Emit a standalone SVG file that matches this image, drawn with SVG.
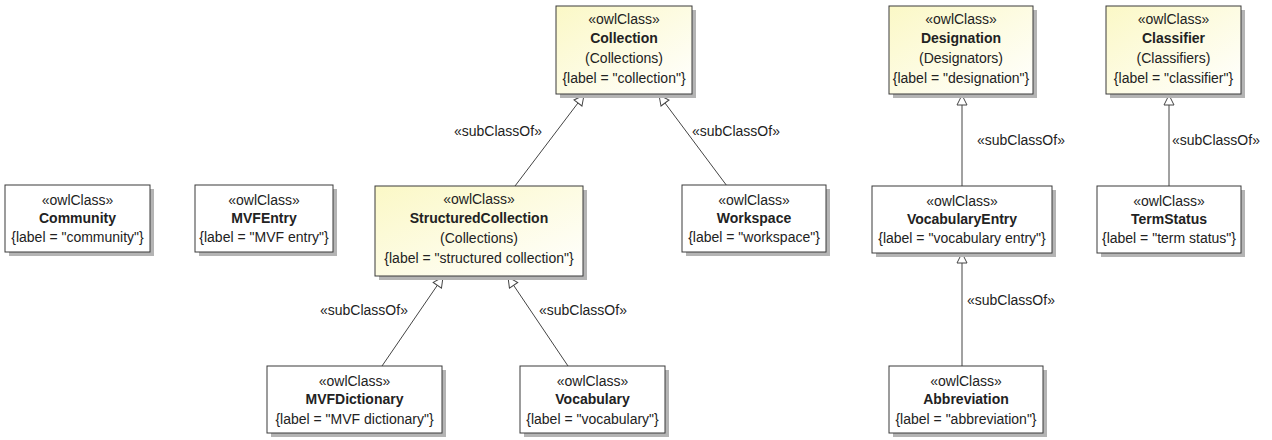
<svg xmlns="http://www.w3.org/2000/svg" width="1272" height="440" viewBox="0 0 1272 440">
<style>
text{font-family:"Liberation Sans",Arial,sans-serif;font-size:14px;fill:#222;text-anchor:middle}
.b{font-weight:bold}
.box{stroke:#3a3a3a;stroke-width:1}
.w{fill:#fff}
.y{fill:url(#yg)}
.sh{fill:#b4b4b4}
.c{stroke:#444;stroke-width:1;fill:none;marker-end:url(#tri)}
.lbl{text-anchor:start}
</style>
<defs>
<linearGradient id="yg" x1="0" y1="0" x2="1" y2="1">
<stop offset="0" stop-color="#fbf8c6"/>
<stop offset="1" stop-color="#ffffff"/>
</linearGradient>
<marker id="tri" viewBox="0 0 12 12" refX="11" refY="6" markerWidth="12" markerHeight="12" markerUnits="userSpaceOnUse" orient="auto">
<path d="M1,1 L11,6 L1,11 Z" fill="#fff" stroke="#444" stroke-width="1"/>
</marker>
</defs>

<g id="connectors">
<line class="c" x1="515" y1="186" x2="584" y2="95"/>
<line class="c" x1="727" y1="186" x2="659" y2="95"/>
<line class="c" x1="382" y1="366" x2="443" y2="277"/>
<line class="c" x1="568" y1="366" x2="508" y2="277"/>
<line class="c" x1="962" y1="186" x2="962" y2="95"/>
<line class="c" x1="1169" y1="186" x2="1169" y2="95"/>
<line class="c" x1="962" y1="366" x2="962" y2="253"/>
<text class="lbl" x="454" y="136">«subClassOf»</text>
<text class="lbl" x="692" y="136">«subClassOf»</text>
<text class="lbl" x="320" y="315">«subClassOf»</text>
<text class="lbl" x="539" y="315">«subClassOf»</text>
<text class="lbl" x="977" y="145">«subClassOf»</text>
<text class="lbl" x="1172" y="145">«subClassOf»</text>
<text class="lbl" x="967" y="305">«subClassOf»</text>
</g>

<g id="Collection">
<rect class="sh" x="560" y="10" width="136" height="88"/>
<rect class="box y" x="556" y="6" width="136" height="88"/>
<text x="624" y="24">«owlClass»</text>
<text class="b" x="624" y="43">Collection</text>
<text x="624" y="63">(Collections)</text>
<text x="624" y="83">{label = "collection"}</text>
</g>

<g id="Designation">
<rect class="sh" x="893" y="10" width="144" height="88"/>
<rect class="box y" x="889" y="6" width="144" height="88"/>
<text x="961" y="24">«owlClass»</text>
<text class="b" x="961" y="43">Designation</text>
<text x="961" y="63">(Designators)</text>
<text x="961" y="83">{label = "designation"}</text>
</g>

<g id="Classifier">
<rect class="sh" x="1110" y="10" width="135" height="88"/>
<rect class="box y" x="1106" y="6" width="135" height="88"/>
<text x="1173.5" y="24">«owlClass»</text>
<text class="b" x="1173.5" y="43">Classifier</text>
<text x="1173.5" y="63">(Classifiers)</text>
<text x="1173.5" y="83">{label = "classifier"}</text>
</g>

<g id="StructuredCollection">
<rect class="sh" x="379" y="190" width="208" height="90"/>
<rect class="box y" x="375" y="186" width="208" height="90"/>
<text x="479" y="204">«owlClass»</text>
<text class="b" x="479" y="223">StructuredCollection</text>
<text x="479" y="243">(Collections)</text>
<text x="479" y="263">{label = "structured collection"}</text>
</g>

<g id="Community">
<rect class="sh" x="9" y="189" width="145" height="67"/>
<rect class="box w" x="5" y="185" width="145" height="67"/>
<text x="77.5" y="205">«owlClass»</text>
<text class="b" x="77.5" y="223">Community</text>
<text x="77.5" y="242">{label = "community"}</text>
</g>

<g id="MVFEntry">
<rect class="sh" x="199" y="189" width="138" height="67"/>
<rect class="box w" x="195" y="185" width="138" height="67"/>
<text x="264" y="205">«owlClass»</text>
<text class="b" x="264" y="223">MVFEntry</text>
<text x="264" y="242">{label = "MVF entry"}</text>
</g>

<g id="Workspace">
<rect class="sh" x="686" y="189" width="144" height="67"/>
<rect class="box w" x="682" y="185" width="144" height="67"/>
<text x="754" y="205">«owlClass»</text>
<text class="b" x="754" y="223">Workspace</text>
<text x="754" y="242">{label = "workspace"}</text>
</g>

<g id="VocabularyEntry">
<rect class="sh" x="876" y="190" width="180" height="67"/>
<rect class="box w" x="872" y="186" width="180" height="67"/>
<text x="962" y="206">«owlClass»</text>
<text class="b" x="962" y="224">VocabularyEntry</text>
<text x="962" y="243">{label = "vocabulary entry"}</text>
</g>

<g id="TermStatus">
<rect class="sh" x="1101" y="190" width="144" height="67"/>
<rect class="box w" x="1097" y="186" width="144" height="67"/>
<text x="1169" y="206">«owlClass»</text>
<text class="b" x="1169" y="224">TermStatus</text>
<text x="1169" y="243">{label = "term status"}</text>
</g>

<g id="MVFDictionary">
<rect class="sh" x="271" y="370" width="175" height="67"/>
<rect class="box w" x="267" y="366" width="175" height="67"/>
<text x="354.5" y="386">«owlClass»</text>
<text class="b" x="354.5" y="404">MVFDictionary</text>
<text x="354.5" y="424">{label = "MVF dictionary"}</text>
</g>

<g id="Vocabulary">
<rect class="sh" x="524" y="370" width="145" height="67"/>
<rect class="box w" x="520" y="366" width="145" height="67"/>
<text x="592.5" y="386">«owlClass»</text>
<text class="b" x="592.5" y="404">Vocabulary</text>
<text x="592.5" y="424">{label = "vocabulary"}</text>
</g>

<g id="Abbreviation">
<rect class="sh" x="893" y="370" width="154" height="67"/>
<rect class="box w" x="889" y="366" width="154" height="67"/>
<text x="966" y="386">«owlClass»</text>
<text class="b" x="966" y="404">Abbreviation</text>
<text x="966" y="424">{label = "abbreviation"}</text>
</g>
</svg>
